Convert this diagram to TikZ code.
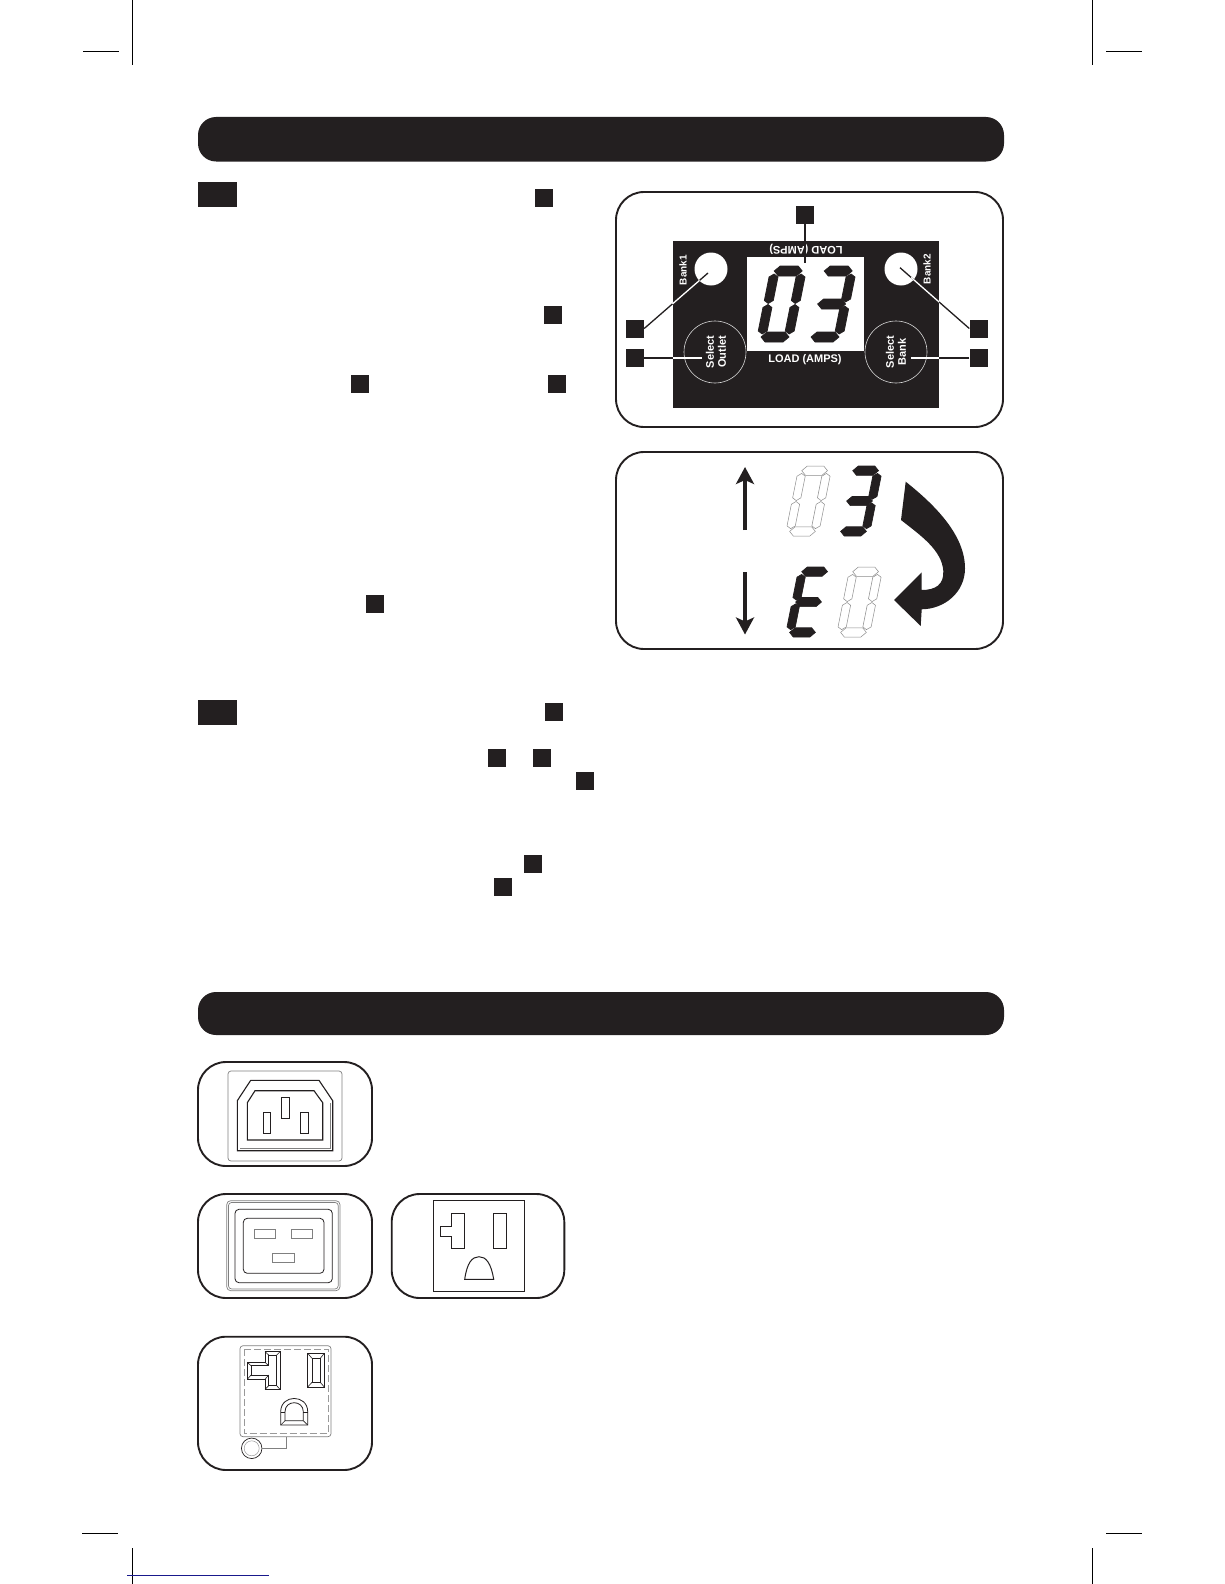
\documentclass[tikz,border=0pt]{standalone}
\usepackage{fontspec}
\setmainfont{Liberation Sans}
\usetikzlibrary{arrows.meta,calc}

\definecolor{inkblack}{RGB}{35,31,32}
\definecolor{linknavy}{RGB}{25,25,140}

\tikzset{
  panelbox/.style={draw=inkblack,line width=1.9pt,fill=white,rounded corners=28pt},
  titlebar/.style={fill=inkblack,rounded corners=18pt},
  tagbox/.style={fill=inkblack,minimum size=18pt,inner sep=0pt},
  stepflag/.style={fill=inkblack,minimum width=39pt,minimum height=25pt,inner sep=0pt},
  cropline/.style={draw=black,line width=.8pt},
  lampdot/.style={circle,fill=white,minimum size=33pt,inner sep=0pt},
  pushring/.style={circle,draw=white!85!black,line width=.6pt,minimum size=62pt,inner sep=0pt},
  panellabel/.style={text=white,font=\fontsize{11}{12}\selectfont\bfseries,align=center,inner sep=0pt},
  banklabel/.style={text=white,font=\fontsize{10}{10}\selectfont\bfseries,inner sep=0pt},
  leadblack/.style={draw=inkblack,line width=1.3pt},
  leadwhite/.style={draw=white,line width=1.3pt},
  segon/.style={fill=inkblack,draw=inkblack,line width=.7pt},
  segoff/.style={draw=black!45,line width=.5pt},
  outline/.style={draw=inkblack,line width=.8pt},
  softline/.style={draw=black!50,line width=.7pt},
}

% x, y (lower left), scale, style, bars, uprights
\newcommand{\lcddigit}[6]{%
  \begin{scope}[shift={(#1,#2)},x=#3pt,y=#3pt,xslant=.2]
    \foreach \lv in {#5}
      \draw[#4] (4,\lv) -- (9,\lv+5) -- (27,\lv+5) -- (32,\lv) -- (27,\lv-5) -- (9,\lv-5) -- cycle;
    \foreach \uu/\va/\vb in {#6}
      \draw[#4] (\uu,\va) -- (\uu+4.5,\va+3) -- (\uu+4.5,\vb-3) -- (\uu,\vb) -- (\uu-4.5,\vb-3) -- (\uu-4.5,\va+3) -- cycle;
  \end{scope}}
\newcommand{\lcdzero}[4]{\lcddigit{#1}{#2}{#3}{#4}{5,71}{4.5/8/37.5,4.5/38.5/68,31.5/8/37.5,31.5/38.5/68}}
\newcommand{\lcdthree}[4]{\lcddigit{#1}{#2}{#3}{#4}{5,38,71}{31.5/8/36,31.5/40/68}}
\newcommand{\lcdE}[4]{\lcddigit{#1}{#2}{#3}{#4}{5,38,71}{4.5/8/36,4.5/40/68}}

\begin{document}
\begin{tikzpicture}[x=1pt,y=-1pt]
    \useasboundingbox (0,0) rectangle (1224,1584);

    % Crop marks
    \draw[cropline] (132.3,0) -- (132.3,65);
    \draw[cropline] (83,51.5) -- (119,51.5);
    \draw[cropline] (1092,0) -- (1092,65);
    \draw[cropline] (1106,51.5) -- (1142,51.5);
    \draw[cropline] (132.3,1548) -- (132.3,1584);
    \draw[cropline] (82,1533) -- (118,1533);
    \draw[cropline] (1092,1548) -- (1092,1584);
    \draw[cropline] (1106,1533) -- (1142,1533);
    \draw[draw=linknavy,line width=.8pt] (127,1575.3) -- (269,1575.3);

    % Title bars
    \fill[titlebar] (198,117) rectangle (1004,161.5);
    \fill[titlebar] (198,992) rectangle (1004,1035);

    % Step flags and text tags
    \node[stepflag] (flagA) at (217.5,194.5) {};
    \node[stepflag] (flagB) at (217.5,712.5) {};
    \node[tagbox] (tagA) at (543.5,198) {};
    \node[tagbox] (tagB) at (553,314.5) {};
    \node[tagbox] (tagC) at (359.5,384) {};
    \node[tagbox] (tagD) at (557,384) {};
    \node[tagbox] (tagE) at (374.5,604) {};
    \node[tagbox] (tagF) at (553.5,711.5) {};
    \node[tagbox] (tagG) at (496.5,757.5) {};
    \node[tagbox] (tagH) at (541.5,757.5) {};
    \node[tagbox] (tagI) at (584.5,781) {};
    \node[tagbox] (tagJ) at (533,864) {};
    \node[tagbox] (tagK) at (503,887) {};

    % Front panel
    \draw[panelbox] (616,192) rectangle (1003,427);
    \fill[inkblack] (673,241) rectangle (939,408);
    \fill[white] (747,257) rectangle (864,351);
    \node[lampdot] (bankLeft) at (711,269) {};
    \node[lampdot] (bankRight) at (901,269) {};
    \node[pushring] (pushLeft) at (715,352) {};
    \node[pushring] (pushRight) at (896,352) {};
    \node[banklabel,rotate=90] (bankOne) at (683,270) {Bank1};
    \node[banklabel,rotate=90] (bankTwo) at (927,269) {Bank2};
    \node[panellabel,rotate=90] (outletText) at (716,352) {Select\\Outlet};
    \node[panellabel,rotate=90] (bankText) at (896,352) {Select\\Bank};
    \node[panellabel] (loadLow) at (805,360) {LOAD (AMPS)};
    \node[panellabel,rotate=180] (loadTop) at (806,249) {LOAD (AMPS)};
    \lcdzero{756}{342}{1}{segon}
    \lcdthree{806}{342}{1}{segon}

    % Panel tags
    \node[tagbox] (tagTop) at (805,214.5) {};
    \node[tagbox] (tagLeftA) at (635,328.5) {};
    \node[tagbox] (tagLeftB) at (635,358) {};
    \node[tagbox] (tagRightA) at (978.5,328.5) {};
    \node[tagbox] (tagRightB) at (978.5,358) {};
    \coordinate (tipTop) at (805,263);
    \coordinate (tipBankL) at (708,273);
    \coordinate (tipBankR) at (900,267.7);
    \coordinate (tipPushL) at (701.7,358);
    \coordinate (tipPushR) at (911,358);

    % Panel leaders
    \draw[leadblack] (tagTop) -- (tipTop);
    \draw[leadblack] (tagLeftA.east) -- (tipBankL);
    \draw[leadwhite] ($(tagLeftA.east)!.444!(tipBankL)$) -- ($(tagLeftA.east)!.867!(tipBankL)$);
    \draw[leadblack] (tagRightA.west) -- (tipBankR);
    \draw[leadwhite] ($(tagRightA.west)!.435!(tipBankR)$) -- ($(tagRightA.west)!.84!(tipBankR)$);
    \draw[leadblack] (tagLeftB.east) -- (tipPushL);
    \draw[leadwhite] ($(tagLeftB.east)!.494!(tipPushL)$) -- (tipPushL);
    \draw[leadblack] (tagRightB.west) -- (tipPushR);
    \draw[leadwhite] ($(tagRightB.west)!.517!(tipPushR)$) -- (tipPushR);

    % Display panel
    \draw[panelbox] (616,452) rectangle (1003,649);
    \coordinate (upFoot) at (745,530);
    \coordinate (upTip) at (745,467);
    \coordinate (downFoot) at (745,572);
    \coordinate (downTip) at (745,634.5);
    \draw[line width=3.5pt,inkblack,-{Stealth[length=17pt,width=18pt,inset=4pt]}] (upFoot) -- (upTip);
    \draw[line width=3.5pt,inkblack,-{Stealth[length=17pt,width=18pt,inset=4pt]}] (downFoot) -- (downTip);
    \lcdzero{785}{536}{.92}{segoff}
    \lcdthree{836}{536}{.92}{segon}
    \lcdE{785}{637}{.92}{segon}
    \lcdzero{836}{637}{.92}{segoff}
    \fill[inkblack] (905.7,481.7) .. controls (935,505) and (965,535) .. (965,568.3)
        .. controls (965,592) and (945,609) .. (921.7,609.3)
        -- (920.7,626) -- (894,600) -- (921.7,572.3) -- (921.7,590)
        .. controls (935,590) and (944,585) .. (943.3,571)
        .. controls (942,550) and (920,535) .. (901,520) -- cycle;

    % Inlet
    \draw[panelbox] (198,1062) rectangle (372,1166);
    \draw[softline,rounded corners=3pt] (228,1071) rectangle (342,1161);
    \draw[outline,line width=1.1pt] (237.3,1100.7) -- (250.7,1080.3) -- (319,1080.3) -- (332.7,1100.7) -- (332.7,1150.7) -- (237.3,1150.7) -- cycle;
    \draw[softline] (330,1103) -- (330,1148) -- (240,1148);
    \draw[outline,line width=1.1pt] (247.3,1102.7) -- (255,1090.7) -- (314,1090.7) -- (322.7,1102.7) -- (322.7,1140) -- (247.3,1140) -- cycle;
    \draw[outline] (281.7,1097.3) rectangle (289.7,1118.3);
    \draw[outline] (263.3,1112.3) rectangle (270.3,1133.3);
    \draw[outline] (300.7,1112.3) rectangle (308.3,1133.3);

    % C20 outlet
    \draw[panelbox] (198,1194) rectangle (372,1298);
    \draw[softline,rounded corners=4pt] (226.7,1200.7) rectangle (340,1290.7);
    \draw[softline,rounded corners=3pt] (228.5,1202.5) rectangle (338.2,1288.9);
    \draw[outline,rounded corners=4pt] (235,1209.3) rectangle (332.3,1282.7);
    \draw[outline,rounded corners=4pt] (243.3,1218.3) rectangle (324,1273.3);
    \draw[softline] (254.7,1229.3) rectangle (275.7,1238.7);
    \draw[softline] (291,1229.3) rectangle (312.7,1238.7);
    \draw[softline] (272.7,1253.3) rectangle (294.7,1262.7);

    % Straight-blade outlet
    \draw[panelbox] (391.7,1194) rectangle (564.3,1298);
    \draw[outline,line width=1pt] (433.3,1200.7) rectangle (524.3,1291);
    \draw[outline,line width=1pt] (451.7,1213.3) -- (464.7,1213.3) -- (464.7,1248.3) -- (451.7,1248.3) -- (451.7,1236) -- (440.3,1236) -- (440.3,1226.7) -- (451.7,1226.7) -- cycle;
    \draw[outline,line width=1pt] (493.7,1213.3) rectangle (506.7,1248.3);
    \draw[outline,line width=1pt] (464.7,1279.3) .. controls (467,1263) and (472,1256.7) .. (479,1256.7) .. controls (486,1256.7) and (491,1263) .. (493.7,1279.3) -- cycle;

    % Outlet with lamp
    \draw[panelbox] (198,1336.7) rectangle (372,1470);
    \draw[softline,rounded corners=3pt] (240,1345.7) rectangle (331,1436.7);
    \draw[draw=black!40,line width=.5pt,dash pattern=on 7pt off 3pt] (244,1349) rectangle (328,1433.5);
    \draw[outline] (265,1351.7) -- (280,1351.7) -- (280,1389.3) -- (265,1389.3) -- (265,1379.3) -- (247.3,1379.3) -- (247.3,1362.3) -- (265,1362.3) -- cycle;
    \draw[outline] (268.7,1355) -- (276.7,1355) -- (276.7,1385.7) -- (268.7,1385.7) -- (268.7,1375) -- (251,1375) -- (251,1365.7) -- (268.7,1365.7) -- cycle;
    \foreach \px/\py/\qx/\qy in {265/1351.7/268.7/1355,280/1351.7/276.7/1355,280/1389.3/276.7/1385.7,265/1389.3/268.7/1385.7,265/1379.3/268.7/1375,247.3/1379.3/251/1375,247.3/1362.3/251/1365.7,265/1362.3/268.7/1365.7}
      \draw[outline,line width=.6pt] (\px,\py) -- (\qx,\qy);
    \draw[outline] (307.7,1353.3) rectangle (324.3,1387);
    \draw[outline] (312,1358.3) rectangle (320.3,1382.3);
    \foreach \px/\py/\qx/\qy in {307.7/1353.3/312/1358.3,324.3/1353.3/320.3/1358.3,307.7/1387/312/1382.3,324.3/1387/320.3/1382.3}
      \draw[outline,line width=.6pt] (\px,\py) -- (\qx,\qy);
    \draw[outline] (280.7,1425) -- (280.7,1411.7) .. controls (280.7,1394) and (307.7,1394) .. (307.7,1411.7) -- (307.7,1425) -- cycle;
    \draw[outline] (285,1420.7) -- (285,1411.7) .. controls (285,1399.7) and (303.3,1399.7) .. (303.3,1411.7) -- (303.3,1420.7) -- cycle;
    \foreach \px/\py/\qx/\qy in {280.7/1425/285/1420.7,307.7/1425/303.3/1420.7,280.7/1412/285/1412,307.7/1412/303.3/1412}
      \draw[outline,line width=.6pt] (\px,\py) -- (\qx,\qy);
    \node[circle,draw=inkblack,line width=.7pt,minimum size=20.5pt,inner sep=0pt] (screwHead) at (251.7,1448.3) {};
    \node[circle,draw=black!40,line width=.5pt,minimum size=15pt,inner sep=0pt] (screwCore) at (251.7,1448.3) {};
    \coordinate (frameTap) at (286,1436.7);
    \draw[softline] (screwHead.east) -| (frameTap);
\end{tikzpicture}
\end{document}
